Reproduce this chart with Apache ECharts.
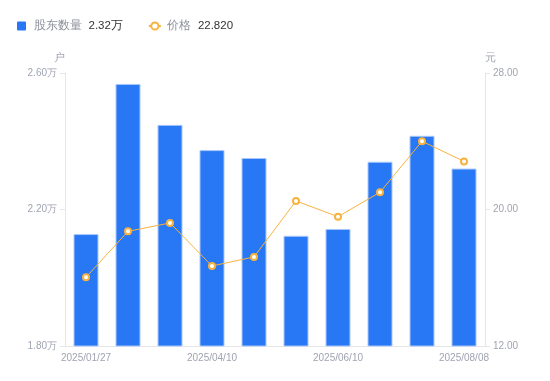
<!DOCTYPE html>
<html>
<head>
<meta charset="utf-8">
<script src="https://cdn.jsdelivr.net/npm/echarts@6/dist/echarts.min.js"></script>
<style>html,body{margin:0;padding:0;background:#fff;}#c{width:550px;height:381px;}</style>
</head>
<body>
<div id="c"></div>
<script>
var dates = ['2025/01/27','2025/02/20','2025/03/10','2025/04/10','2025/04/30','2025/05/20','2025/06/10','2025/06/30','2025/07/18','2025/08/08'];
var holders = [21280, 25680, 24480, 23740, 23510, 21230, 21430, 23400, 24160, 23200];
var prices = [16.03, 18.72, 19.21, 16.69, 17.22, 20.50, 19.58, 21.01, 24.00, 22.82];
var leftTicks = [18000, 22000, 26000];
var rightTicks = [12, 20, 28];

var labelColor = '#a0a4b2';
var lineColor = '#e6e6e6';
var barName = '股东数量', lineName = '价格';
var chart = echarts.init(document.getElementById('c'));
chart.setOption({
  animation: false,
  legend: {
    left: 12, top: 15, itemGap: 25, itemWidth: 12, itemHeight: 9,
    data: [
      {name: barName, icon: 'path://M1,0h7a1,1 0 0 1 1,1v7a1,1 0 0 1 -1,1h-7a1,1 0 0 1 -1,-1v-7a1,1 0 0 1 1,-1z', itemStyle: {borderWidth: 0}},
      {name: lineName}
    ],
    formatter: function (n) {
      var v = n === barName ? (holders[holders.length-1]/10000).toFixed(2) + '万' : prices[prices.length-1].toFixed(3);
      return '{a|' + n + '}{b|' + v + '}';
    },
    textStyle: {
      rich: {
        a: {color: '#8e919c', fontSize: 11.5, padding: [0, 7, 0, 1]},
        b: {color: '#333', fontSize: 11.5}
      }
    }
  },
  grid: {left: 65, right: 65, top: 73, bottom: 35},
  xAxis: {
    type: 'category', data: dates,
    axisLine: {lineStyle: {color: lineColor}},
    axisTick: {show: false},
    axisLabel: {color: labelColor, fontSize: 10, interval: 2, margin: 7}
  },
  yAxis: [{
    type: 'value', min: leftTicks[0], max: leftTicks[2], interval: leftTicks[1]-leftTicks[0],
    name: '户', nameGap: 10, nameTextStyle: {color: labelColor, fontSize: 11, padding: [0, 12, 0, 0]},
    axisLine: {show: true, lineStyle: {color: lineColor}},
    axisTick: {show: true, lineStyle: {color: lineColor}},
    splitLine: {show: false},
    axisLabel: {color: labelColor, fontSize: 10, formatter: function (v) { return (v/10000).toFixed(2) + '万'; }}
  }, {
    type: 'value', min: rightTicks[0], max: rightTicks[2], interval: rightTicks[1]-rightTicks[0],
    name: '元', nameGap: 10, nameTextStyle: {color: labelColor, fontSize: 11, padding: [0, 0, 0, 10]},
    axisLine: {show: true, lineStyle: {color: lineColor}},
    axisTick: {show: true, lineStyle: {color: lineColor}},
    splitLine: {show: false},
    axisLabel: {color: labelColor, fontSize: 10, formatter: function (v) { return v.toFixed(2); }}
  }],
  series: [{
    name: barName, type: 'bar', data: holders, barWidth: 25,
    itemStyle: {color: '#2877f4', borderColor: '#a9c8fb', borderWidth: 1}
  }, {
    name: lineName, type: 'line', yAxisIndex: 1, data: prices,
    symbol: 'emptyCircle', symbolSize: 6,
    lineStyle: {color: '#f8b33f', width: 1},
    itemStyle: {color: '#f8b33f', borderWidth: 2}
  }]
});
</script>
</body>
</html>
